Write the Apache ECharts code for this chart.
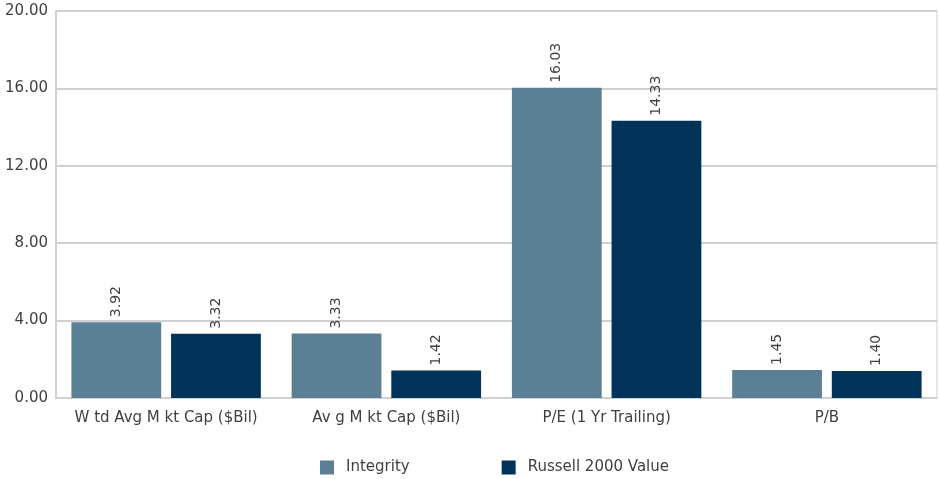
<!DOCTYPE html>
<html><head><meta charset="utf-8">
<script src="https://cdn.jsdelivr.net/npm/echarts@6/dist/echarts.min.js"></script>
<style>html,body{margin:0;padding:0;background:#fff}#c{width:939px;height:479px}</style>
</head><body><div id="c"></div>
<script>
const categories = ["W td Avg M kt Cap ($Bil)", "Av g M kt Cap ($Bil)", "P/E (1 Yr Trailing)", "P/B"];
const seriesNames = ["Integrity", "Russell 2000 Value"];
const integrity = [3.92, 3.33, 16.03, 1.45];
const russell = [3.32, 1.42, 14.33, 1.40];
const yMin = 0, yMax = 20, yInterval = 4;

const font = "'Century Gothic', 'DejaVu Sans', sans-serif";
const chart = echarts.init(document.getElementById('c'), null, {renderer: 'canvas'});
const lbl = {show: true, position: 'top', rotate: 90, align: 'left', verticalAlign: 'middle',
  distance: 5, color: '#404040', fontSize: 14, fontFamily: font,
  formatter: p => p.value.toFixed(2)};
chart.setOption({
  animation: false,
  textStyle: {fontFamily: font},
  grid: {left: 56, right: 2, top: 11, bottom: 81, containLabel: false, show: true, borderColor: '#d0d0d0', borderWidth: 1},
  legend: {top: 460, left: 320, padding: 0, itemWidth: 14, itemHeight: 14, itemGap: 92,
    textStyle: {fontSize: 15, color: '#404040', fontFamily: font, padding: [0, 0, 0, 7]},
    data: seriesNames.map(n => ({name: n, icon: 'rect'}))},
  xAxis: {type: 'category', data: categories,
    axisLine: {lineStyle: {color: '#d0d0d0', width: 2}}, axisTick: {show: false},
    axisLabel: {interval: 0, color: '#404040', fontSize: 15, margin: 13, fontFamily: font}},
  yAxis: {type: 'value', min: yMin, max: yMax, interval: yInterval,
    axisLine: {show: true, lineStyle: {color: '#d0d0d0', width: 2}}, axisTick: {show: false},
    splitLine: {lineStyle: {color: '#d0d0d0', width: 2}},
    axisLabel: {color: '#404040', fontSize: 15, margin: 8, fontFamily: font, formatter: v => v.toFixed(2)}},
  series: [
    {name: seriesNames[0], type: 'bar', data: integrity, itemStyle: {color: '#5b7f95'},
      barGap: '11%', barCategoryGap: '14%', label: lbl},
    {name: seriesNames[1], type: 'bar', data: russell, itemStyle: {color: '#003359'}, label: lbl}
  ]
});
</script></body></html>
